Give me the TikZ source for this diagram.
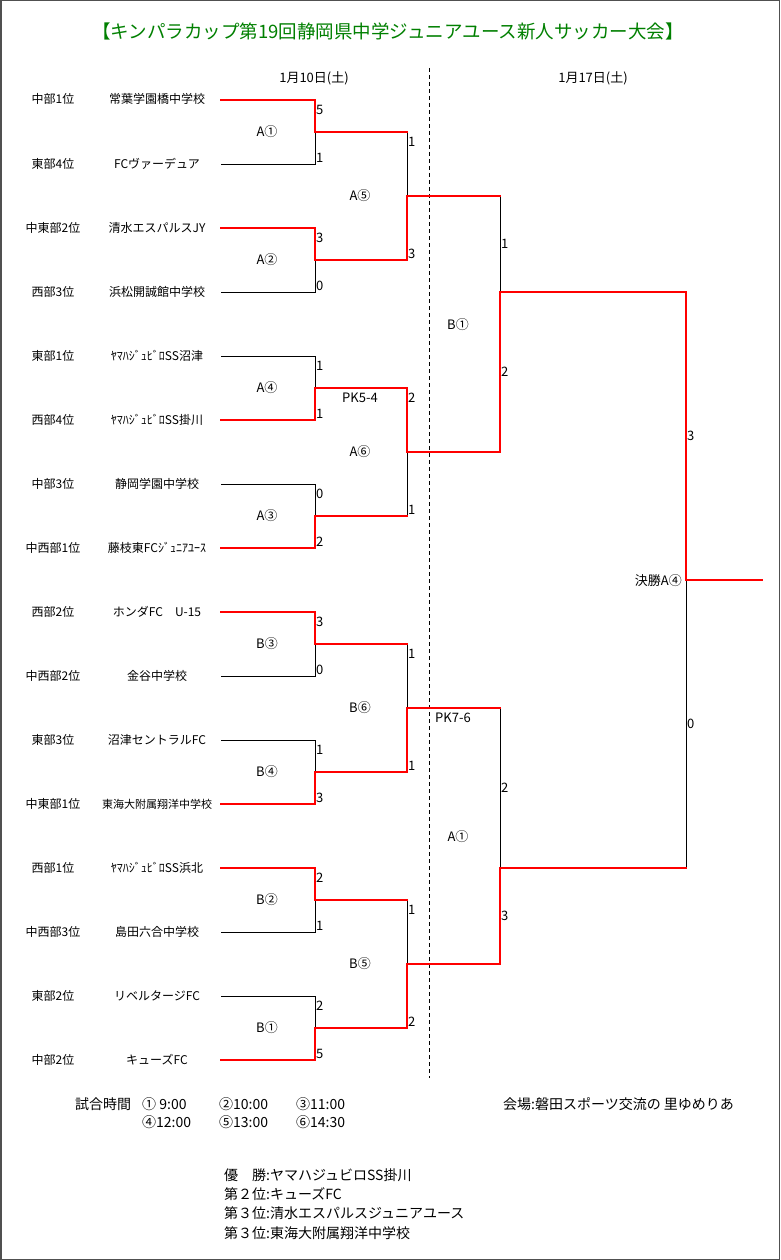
\documentclass[tikz,border=0pt]{standalone}
\usepackage{fontspec}
\setmainfont{Noto Sans CJK JP}
\newcommand\fsz[1]{\fontsize{#1pt}{#1pt}\selectfont}
\definecolor{titlegreen}{HTML}{008000}
\definecolor{framegray}{HTML}{505050}
\begin{document}
\begin{tikzpicture}[x=1pt,y=-1pt,
  bl/.style={black, line width=0.9pt, line cap=rect},
  rd/.style={red, line width=2pt, line join=miter, line cap=rect},
  reg/.style={inner sep=0pt, font=\fsz{12}, text height=10pt, text depth=2pt},
  tm/.style={inner sep=0pt, font=\fsz{12}, text height=10pt, text depth=2pt},
  sc/.style={inner sep=0pt, font=\fsz{13}, text height=10.5pt, text depth=1.5pt, anchor=west},
  ml/.style={inner sep=0pt, font=\fsz{13}, text height=11pt, text depth=2pt},
  ft/.style={inner sep=0pt, font=\fsz{14}, text height=12pt, text depth=2pt, anchor=west},
  dt/.style={inner sep=0pt, font=\fsz{13}, text height=10.5pt, text depth=2pt}]
\fill[white] (0,0) rectangle (780,1260);
\useasboundingbox (0,0) rectangle (780,1260);
\draw[framegray, line width=1.5pt] (0.75,0.75) rectangle (779.25,1259.25);

% title and dates
\node[inner sep=0pt, font=\fsz{18.5}, text=titlegreen, text height=15pt, text depth=3pt] (title) at (388,33) {【キンパラカップ第19回静岡県中学ジュニアユース新人サッカー大会】};
\node[dt] (date1) at (314,78) {1月10日(土)};
\node[dt] (date2) at (593,78) {1月17日(土)};
\coordinate (d1) at (429,68);
\coordinate (d2) at (429,1078);
\draw[black, line width=0.8pt, dash pattern=on 4pt off 3pt] (d1) -- (d2);

% teams
\foreach \i/\r/\t in {
  1/中部1位/常葉学園橋中学校,
  2/東部4位/FCヴァーデュア,
  3/中東部2位/清水エスパルスJY,
  4/西部3位/浜松開誠館中学校,
  5/東部1位/ﾔﾏﾊｼﾞｭﾋﾞﾛSS沼津,
  6/西部4位/ﾔﾏﾊｼﾞｭﾋﾞﾛSS掛川,
  7/中部3位/静岡学園中学校,
  8/中西部1位/藤枝東FCｼﾞｭﾆｱﾕｰｽ,
  9/西部2位/ホンダFC　U-15,
  10/中西部2位/金谷中学校,
  11/東部3位/沼津セントラルFC,
  12/中東部1位/{\fsz{11}東海大附属翔洋中学校},
  13/西部1位/ﾔﾏﾊｼﾞｭﾋﾞﾛSS浜北,
  14/中西部3位/島田六合中学校,
  15/東部2位/リベルタージFC,
  16/中部2位/キューズFC}{
  \pgfmathsetmacro\yy{100+64*(\i-1)}
  \node[reg] (r\i) at (53,\yy) {\r};
  \node[tm] (t\i) at (157,\yy) {\t};
  \coordinate (a\i) at (221,\yy);
  \coordinate (b\i) at (315,\yy);
}
% round-1 joints
\foreach \j in {1,...,8}{
  \pgfmathsetmacro\yy{132+128*(\j-1)}
  \coordinate (m\j) at (315,\yy);
  \coordinate (n\j) at (407,\yy);
}
% round-2 joints
\foreach \k in {1,...,4}{
  \pgfmathsetmacro\yy{196+256*(\k-1)}
  \coordinate (p\k) at (407,\yy);
  \coordinate (q\k) at (500,\yy);
}
\coordinate (u1) at (500,292);
\coordinate (v1) at (686,292);
\coordinate (u2) at (500,868);
\coordinate (v2) at (686,868);
\coordinate (f) at (686,580);
\coordinate (g) at (762,580);

% black (losing) lines
\draw[bl] (a2)--(b2)--(m1);
\draw[bl] (a4)--(b4)--(m2);
\draw[bl] (a5)--(b5)--(m3);
\draw[bl] (a7)--(b7)--(m4);
\draw[bl] (a10)--(b10)--(m5);
\draw[bl] (a11)--(b11)--(m6);
\draw[bl] (a14)--(b14)--(m7);
\draw[bl] (a15)--(b15)--(m8);
\draw[bl] (n1)--(p1);
\draw[bl] (n4)--(p2);
\draw[bl] (n5)--(p3);
\draw[bl] (n7)--(p4);
\draw[bl] (q1)--(u1);
\draw[bl] (q3)--(u2);
\draw[bl] (f)--(v2);

% red (winning) lines
\draw[rd] (a1)--(b1)--(m1)--(n1);
\draw[rd] (a3)--(b3)--(m2)--(n2)--(p1)--(q1);
\draw[rd] (a6)--(b6)--(m3)--(n3)--(p2)--(q2)--(u1)--(v1)--(f)--(g);
\draw[rd] (a8)--(b8)--(m4)--(n4);
\draw[rd] (a9)--(b9)--(m5)--(n5);
\draw[rd] (a12)--(b12)--(m6)--(n6)--(p3)--(q3);
\draw[rd] (a13)--(b13)--(m7)--(n7);
\draw[rd] (a16)--(b16)--(m8)--(n8)--(p4)--(q4)--(u2)--(v2);

% round-1 scores
\foreach \j/\s/\tt in {1/5/1,2/3/0,3/1/1,4/0/2,5/3/0,6/1/3,7/2/1,8/2/5}{
  \pgfmathsetmacro\ya{100+128*(\j-1)+10}
  \pgfmathsetmacro\yb{164+128*(\j-1)-6}
  \node[sc] (sa\j) at (316,\ya) {\s};
  \node[sc] (sb\j) at (316,\yb) {\tt};
}
% round-2 scores
\foreach \k/\s/\tt in {1/1/3,2/2/1,3/1/1,4/1/2}{
  \pgfmathsetmacro\ya{132+256*(\k-1)+10}
  \pgfmathsetmacro\yb{260+256*(\k-1)-6}
  \node[sc] (sc\k) at (408,\ya) {\s};
  \node[sc] (sd\k) at (408,\yb) {\tt};
}
% round-3 and final scores
\node[sc] (se1) at (501,244) {1};
\node[sc] (se2) at (501,372) {2};
\node[sc] (se3) at (501,788) {2};
\node[sc] (se4) at (501,916) {3};
\node[sc] (sf1) at (687,436) {3};
\node[sc] (sf2) at (687,724) {0};

% match labels
\foreach \j/\l in {1/A①,2/A②,3/A④,4/A③,5/B③,6/B④,7/B②,8/B①}{
  \pgfmathsetmacro\yy{132+128*(\j-1)}
  \node[ml] (ma\j) at (267,\yy) {\l};
}
\foreach \k/\l in {1/A⑤,2/A⑥,3/B⑥,4/B⑤}{
  \pgfmathsetmacro\yy{196+256*(\k-1)}
  \node[ml] (mb\k) at (360,\yy) {\l};
}
\node[ml] (mc1) at (458,325) {B①};
\node[ml] (mc2) at (458,837) {A①};
\node[ml] (pk1) at (360,398) {PK5-4};
\node[ml] (pk2) at (453,718) {PK7-6};
\node[ml, anchor=east] (fin) at (682,581) {決勝A④};

% footer
\node[ft] (time) at (75,1104) {試合時間};
\node[ft] (t1a) at (142,1104) {① 9:00};
\node[ft] (t2a) at (219,1104) {②10:00};
\node[ft] (t3a) at (296,1104) {③11:00};
\node[ft] (t4a) at (142,1122) {④12:00};
\node[ft] (t5a) at (219,1122) {⑤13:00};
\node[ft] (t6a) at (296,1122) {⑥14:30};
\node[ft] (venue) at (503,1104) {会場:磐田スポーツ交流の 里ゆめりあ};
\node[ft] (res1) at (224,1175) {優　勝:ヤマハジュビロSS掛川};
\node[ft] (res2) at (224,1194) {第２位:キューズFC};
\node[ft] (res3) at (224,1213) {第３位:清水エスパルスジュニアユース};
\node[ft] (res4) at (224,1233) {第３位:東海大附属翔洋中学校};
\end{tikzpicture}
\end{document}
